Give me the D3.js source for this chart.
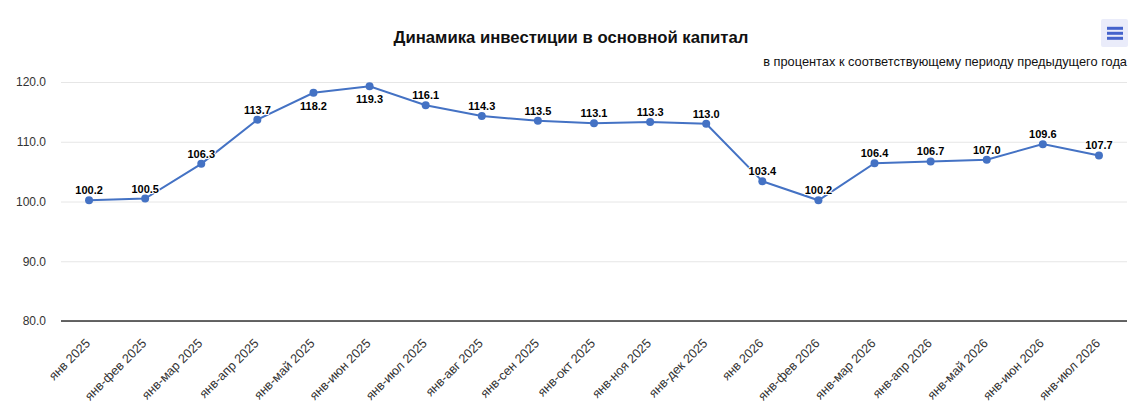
<!DOCTYPE html>
<html><head><meta charset="utf-8">
<script src="https://cdn.jsdelivr.net/npm/d3@7/dist/d3.min.js"></script>
<style>body{margin:0;background:#fff;font-family:"Liberation Sans",Arial,Helvetica,sans-serif;}</style>
</head><body><svg id="c" width="1146" height="416"></svg>
<script>
const categories = ["янв 2025","янв-фев 2025","янв-мар 2025","янв-апр 2025","янв-май 2025","янв-июн 2025","янв-июл 2025","янв-авг 2025","янв-сен 2025","янв-окт 2025","янв-ноя 2025","янв-дек 2025","янв 2026","янв-фев 2026","янв-мар 2026","янв-апр 2026","янв-май 2026","янв-июн 2026","янв-июл 2026"];
const values = [100.2,100.5,106.3,113.7,118.2,119.3,116.1,114.3,113.5,113.1,113.3,113.0,103.4,100.2,106.4,106.7,107.0,109.6,107.7];
const yTicks = [80,90,100,110,120];
const titleText = "Динамика инвестиции в основной капитал";
const subtitleText = "в процентах к соответствующему периоду предыдущего года";

(function(){
const svg = d3.select("#c");
const pL = 61, pR = 1127, pT = 82, pB = 321;
const x = d3.scaleBand().domain(categories).range([pL, pR]);
const y = d3.scaleLinear().domain([80, 120]).range([pB, pT]);
const FF = "'Liberation Sans', Arial, sans-serif";

svg.append("text").attr("x", 571).attr("y", 43).attr("text-anchor", "middle").attr("font-family", FF)
  .attr("font-size", 16.7).attr("font-weight", "bold").attr("fill", "#111").text(titleText);
svg.append("text").attr("x", 1127).attr("y", 66).attr("text-anchor", "end").attr("font-family", FF)
  .attr("font-size", 12.8).attr("fill", "#111").text(subtitleText);

const mb = svg.append("g");
mb.append("rect").attr("x", 1101).attr("y", 19).attr("width", 27).attr("height", 28).attr("rx", 2).attr("fill", "#eaecfa");
[28.3, 33.3, 38.3].forEach(v => mb.append("line").attr("x1", 1107).attr("x2", 1123).attr("y1", v).attr("y2", v)
  .attr("stroke", "#4463cc").attr("stroke-width", 3));

const yAxis = d3.axisLeft(y).tickValues(yTicks).tickSize(-(pR - pL)).tickFormat(d3.format(".1f")).tickPadding(15);
const gy = svg.append("g").attr("transform", `translate(${pL},0)`).call(yAxis);
gy.attr("font-family", FF).attr("font-size", 12);
gy.select(".domain").remove();
gy.selectAll(".tick line").attr("stroke", "#e6e6e6");
gy.selectAll(".tick text").attr("fill", "#333");

const xAxis = d3.axisBottom(x).tickSize(0).tickPadding(0);
const gx = svg.append("g").attr("transform", `translate(0,${pB})`).call(xAxis);
gx.attr("font-family", FF).attr("font-size", 12.7);
gx.select(".domain").attr("stroke", "#333").attr("stroke-width", 1.5).attr("d", `M${pL},0H${pR}`);
gx.selectAll(".tick text").attr("fill", "#333")
  .attr("text-anchor", "end").attr("dy", null).attr("y", 0)
  .attr("transform", "translate(2,23) rotate(-45)");

const cx = d => x(d) + x.bandwidth() / 2;
const line = d3.line().x((d, i) => cx(categories[i])).y(d => y(d));
svg.append("path").datum(values).attr("d", line).attr("fill", "none").attr("stroke", "#4472c4").attr("stroke-width", 2);
svg.selectAll("circle.p").data(values).join("circle").attr("class", "p")
  .attr("cx", (d, i) => cx(categories[i])).attr("cy", d => y(d)).attr("r", 4).attr("fill", "#4472c4");

svg.selectAll("text.lbl").data(values).join("text").attr("class", "lbl")
  .attr("x", (d, i) => cx(categories[i]))
  .attr("y", d => y(d) - 15 < pT ? y(d) + 17 : y(d) - 6)
  .attr("text-anchor", "middle").attr("font-family", FF).attr("font-size", 11).attr("font-weight", "bold").attr("fill", "#000")
  .attr("stroke", "#fff").attr("stroke-width", 2).attr("paint-order", "stroke").attr("stroke-linejoin", "round")
  .text(d => d.toFixed(1));
})();
</script></body></html>
